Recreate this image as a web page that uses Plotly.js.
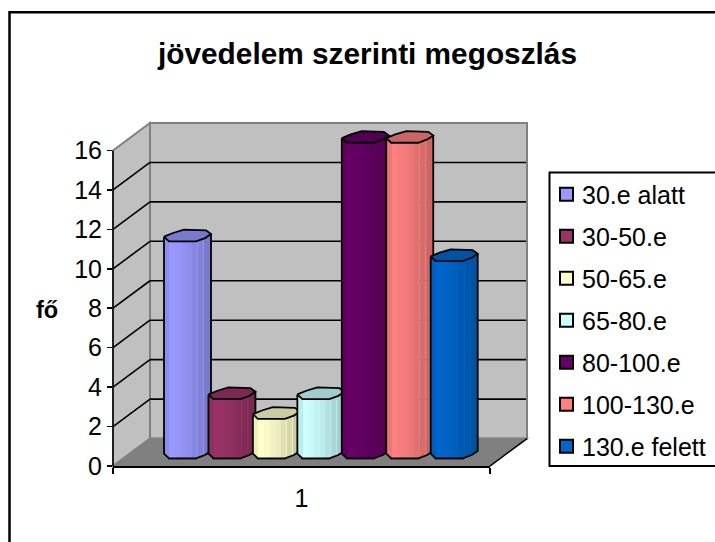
<!DOCTYPE html>
<html><head><meta charset="utf-8">
<script src="https://cdn.plot.ly/plotly-3.0.1.min.js"></script>
<style>html,body{margin:0;padding:0;width:715px;height:542px;overflow:hidden;background:#fff}</style>
</head><body><div id="chart"></div>
<script>
// ---- data ----
const categories = ['30.e alatt','30-50.e','50-65.e','65-80.e','80-100.e','100-130.e','130.e felett'];
const values = [11,3,2,3,16,16,10];
const colors = ['#9999FF','#993366','#FFFFCC','#CCFFFF','#660066','#FF8080','#0066CC'];
const yTicks = [0,2,4,6,8,10,12,14,16];
const xTick = [1];
const titleText = 'jövedelem szerinti megoszlás';
const yTitle = 'fő';

// ---- geometry of the page ----
const W=760,H=600,L=113,R=490,T=150,B=466;
const pxX=(R-L), pxY=(B-T)/16;
const yMax=18, plotTop=B-yMax*pxY;  // headroom so the column tops stay inside the plot
const X=p=>0.5+(p-L)/pxX;           // pixel column -> x data
const DX=37, DY=27.5;               // depth of the 3-D box
const floorPx=7.7;                  // bars stand inside the floor
const floorV=floorPx/pxY;
const barStart=164, barStep=44.45;
const front=[[0,4.7],[5,0],[32,0],[41,3.3],[47,7.4]];
const back=[[47,7.4],[42,11],[20,11.7],[9,8.4],[0,4.7]];
const strips=[[0,5,.93],[5,11,1],[11,17,.98],[17,23,.95],[23,28,.92],[28,33,.88],[33,34,.95],[34,39,.84],[39,40,.95],[40,47,.8]];

function shade(hex,f){const n=parseInt(hex.slice(1),16);
  const c=[n>>16&255,n>>8&255,n&255].map(v=>Math.round(v*f));return `rgb(${c})`;}
function edge(x){for(let i=1;i<front.length;i++){const a=front[i-1],b=front[i];
  if(x<=b[0])return a[1]+(b[1]-a[1])*(x-a[0])/(b[0]-a[0]);}return front[front.length-1][1];}

// paper-coordinate helpers for shapes (walls, grid, frames)
const pX=p=>(p-L)/pxX, pY=p=>(B-p)/(B-plotTop);
function poly(pts,fill,lc,lw,layer){return {type:'path',xref:'paper',yref:'paper',layer:layer||'below',
  path:'M'+pts.map(q=>pX(q[0])+','+pY(q[1])).join('L')+'Z',fillcolor:fill,line:{color:lc,width:lw}};}
function seg(a,b,lc,lw){return {type:'line',xref:'paper',yref:'paper',layer:'below',x0:pX(a[0]),y0:pY(a[1]),x1:pX(b[0]),y1:pY(b[1]),line:{color:lc,width:lw}};}
const vy=v=>B-v*pxY;

const shapes=[
  {type:'rect',xref:'paper',yref:'paper',layer:'below',x0:pX(9.5),y0:pY(H+20),x1:pX(W+20),y1:pY(11.5),fillcolor:'#fff',line:{color:'#000',width:2.5}},
  poly([[L,B],[L+DX,B-DY],[L+DX,T-DY],[L,T]],'#C0C0C0','#808080',2),
  poly([[L+DX,B-DY],[R+DX,B-DY],[R+DX,T-DY],[L+DX,T-DY]],'#C0C0C0','#808080',2),
  poly([[L,B],[L+DX,B-DY],[R+DX,B-DY],[R,B]],'#808080','#808080',1.5),
  seg([R,B],[R+DX,B-DY],'#000',1.5),
  seg([L,B],[L,T],'#000',1.5),
  {type:'rect',xref:'paper',yref:'paper',layer:'below',x0:pX(549.5),y0:pY(466),x1:pX(W+20),y1:pY(172),fillcolor:'#fff',line:{color:'#000',width:2}}
];
yTicks.slice(1,-1).forEach(v=>{
  shapes.push(seg([L,vy(v)],[L+DX,vy(v)-DY],'#000',1.6));
  shapes.push(seg([L+DX,vy(v)-DY],[R+DX-1,vy(v)-DY],'#000',1.6));
});

const traces=[];
// real bars: the front face of each column, from the value
categories.forEach((name,i)=>{
  const x0=barStart+i*barStep;
  traces.push({type:'bar',name,x:xTick,y:[values[i]],base:floorV,
    offset:X(x0+5)-1,width:(32-5)/pxX,
    marker:{color:colors[i],line:{color:'#000',width:2}},
    legendgroup:name,hoverinfo:'name+y'});
});
// shading and outline of each column
categories.forEach((name,i)=>{
  const x0=barStart+i*barStep, top=floorV+values[i];
  const yOf=(base,off)=>base+off/pxY;
  strips.forEach(s=>{
    const xs=[s[0],s[1]+(s[1]<47?.5:0)], bp=[...new Set([xs[0],...front.map(q=>q[0]).filter(q=>q>xs[0]&&q<xs[1]),xs[1]])];
    const tx=bp.map(b=>X(x0+b)), ty=bp.map(b=>yOf(top,edge(b)));
    const bx=[...bp].reverse().map(b=>X(x0+b)), by=[...bp].reverse().map(b=>yOf(floorV,edge(b)));
    traces.push({type:'scatter',mode:'none',fill:'toself',x:[...tx,...bx,tx[0]],y:[...ty,...by,ty[0]],
      fillcolor:shade(colors[i],s[2]),showlegend:false,hoverinfo:'skip'});
  });
  const capPts=[...front,...back.slice(1)];
  traces.push({type:'scatter',mode:'lines',fill:'toself',x:capPts.map(q=>X(x0+q[0])),y:capPts.map(q=>yOf(top,q[1])),
    fillcolor:shade(colors[i],.8),line:{color:'#000',width:1.8},showlegend:false,hoverinfo:'skip'});
  const bot=[...front];
  traces.push({type:'scatter',mode:'lines',
    x:[X(x0),...bot.map(q=>X(x0+q[0])),X(x0+47)],
    y:[yOf(top,4.7),...bot.map(q=>yOf(floorV,q[1])),yOf(top,7.4)],
    line:{color:'#000',width:1.8},showlegend:false,hoverinfo:'skip'});
});

const FONT='"Liberation Sans", Arial, sans-serif';
const layout={
  width:W,height:H,autosize:false,showlegend:true,barmode:'overlay',
  paper_bgcolor:'#fff',plot_bgcolor:'rgba(0,0,0,0)',
  font:{family:FONT,color:'#000',size:25},
  margin:{l:L,r:W-R,t:plotTop,b:H-B,pad:0,autoexpand:false},
  title:{text:'<b>'+titleText+'</b>',font:{family:FONT,size:29.8,color:'#000'},x:367.5/W,xanchor:'center',xref:'container',y:1-54/H,yanchor:'middle',yref:'container'},
  xaxis:{type:'linear',range:[.5,1.5],tickmode:'array',tickvals:xTick,ticktext:['1'],ticks:'',ticklen:0,ticklabelstandoff:9,
    showgrid:false,zeroline:false,showline:true,linecolor:'#000',linewidth:1.5,
    minor:{tickmode:'array',tickvals:[.5,1.5],ticks:'outside',ticklen:6,tickwidth:1.5,tickcolor:'#000',showgrid:false}},
  yaxis:{range:[0,yMax],tickmode:'array',tickvals:yTicks,ticks:'outside',ticklen:5,tickwidth:1.5,tickcolor:'#000',
    showgrid:false,zeroline:false,showline:false},
  legend:{x:pX(542),xanchor:'left',y:pY(171),yanchor:'top',bgcolor:'rgba(0,0,0,0)',borderwidth:0,tracegroupgap:6.5,
    font:{family:FONT,size:25,color:'#000'},itemclick:false,itemdoubleclick:false},
  annotations:[{xref:'paper',yref:'paper',x:pX(47),xanchor:'center',y:pY(310),yanchor:'middle',text:'<b>'+yTitle+'</b>',showarrow:false,font:{family:FONT,size:23.5,color:'#000'}}],
  shapes
};
Plotly.newPlot('chart',traces,layout,{displayModeBar:false,staticPlot:true}).then(gd=>{
  // the reference's swatches sit closer to their text and are slightly larger
  gd.querySelectorAll('.legend .legendsymbols').forEach(el=>{
    el.setAttribute('transform','translate(4.5,0) '+(el.getAttribute('transform')||''));
  });
  gd.querySelectorAll('.legend .legendpoints path').forEach(el=>el.setAttribute('d','M6.5,6.5H-6.5V-6.5H6.5Z'));
});
</script></body></html>
